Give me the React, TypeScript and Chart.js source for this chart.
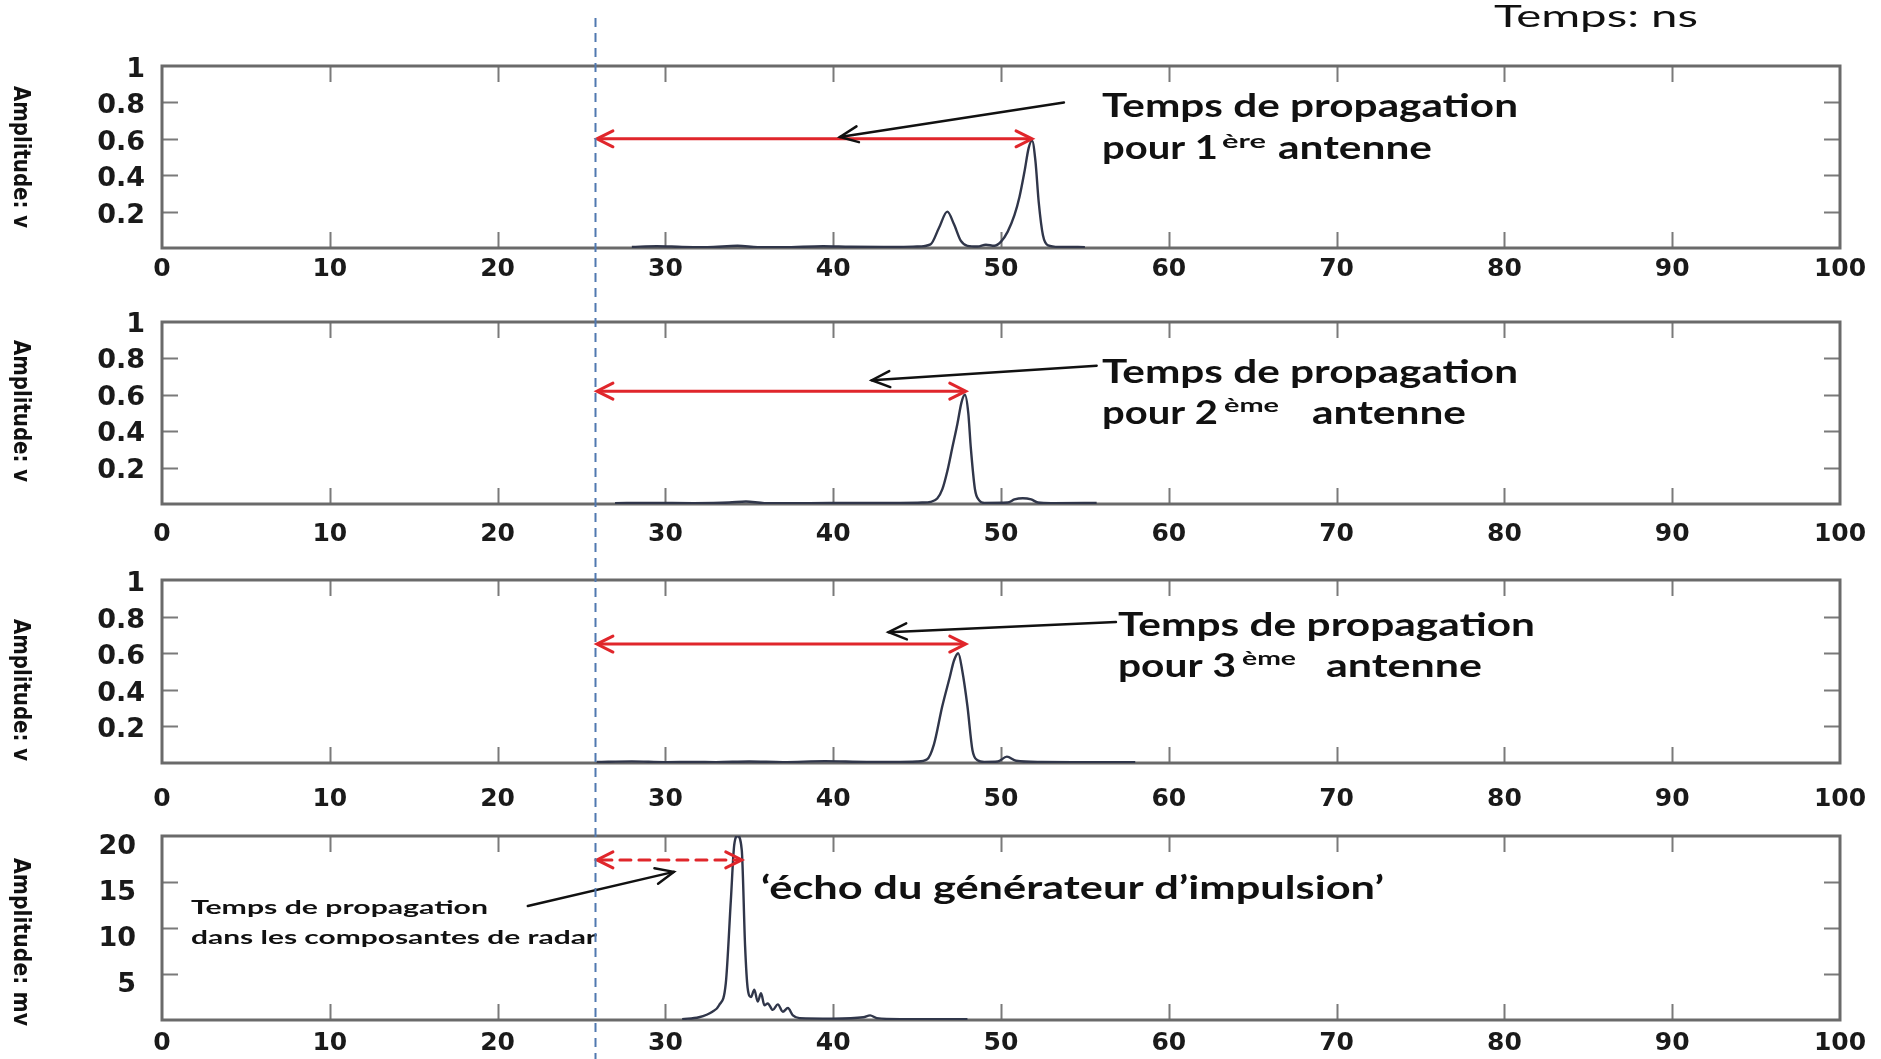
import React, { useEffect, useRef } from "react";
import { Chart, registerables } from "chart.js";

Chart.register(...registerables);

// ---------- data ----------
const X_TICKS = [0, 10, 20, 30, 40, 50, 60, 70, 80, 90, 100];
const Y_TICKS_V = [0, 0.2, 0.4, 0.6, 0.8, 1];
const Y_TICKS_MV = [0, 5, 10, 15, 20];
const Y_TITLES = ["Amplitude: v", "Amplitude: v", "Amplitude: v", "Amplitude: mv"];

// antenne 1 (time ns / amplitude V)
const T1 = [28, 29.5, 31, 32.5, 34.3, 35.5, 37, 39.4, 41, 43, 45, 45.8, 46.3, 46.8, 47.2, 47.6, 48.0, 48.6, 49.1, 49.6, 50.0, 50.4, 50.8, 51.1, 51.4, 51.65, 51.85, 52.05, 52.25, 52.5, 52.8, 53.5, 55];
const A1 = [0.006, 0.01, 0.006, 0.005, 0.012, 0.005, 0.004, 0.01, 0.007, 0.006, 0.008, 0.02, 0.11, 0.2, 0.13, 0.04, 0.012, 0.008, 0.018, 0.012, 0.035, 0.09, 0.18, 0.28, 0.42, 0.55, 0.59, 0.48, 0.25, 0.07, 0.015, 0.006, 0.005];
// antenne 2
const T2 = [27, 29, 31.7, 33.8, 34.8, 35.9, 38.6, 41, 44, 45.3, 45.8, 46.2, 46.5, 46.8, 47.1, 47.4, 47.65, 47.85, 48.05, 48.2, 48.45, 48.7, 49.0, 50.4, 50.8, 51.3, 51.8, 52.2, 53, 55.7];
const A2 = [0.005, 0.006, 0.005, 0.008, 0.014, 0.005, 0.005, 0.006, 0.006, 0.008, 0.012, 0.03, 0.08, 0.18, 0.31, 0.44, 0.56, 0.6, 0.5, 0.31, 0.08, 0.02, 0.006, 0.008, 0.025, 0.032, 0.025, 0.008, 0.005, 0.006];
// antenne 3
const T3 = [25.9, 28, 30, 31.7, 33, 35, 37, 39.5, 42, 44, 45, 45.6, 46.0, 46.5, 46.95, 47.2, 47.45, 47.7, 48.0, 48.3, 48.6, 49.0, 49.8, 50.35, 50.9, 52.4, 55, 58];
const A3 = [0.006, 0.009, 0.005, 0.006, 0.005, 0.008, 0.005, 0.01, 0.006, 0.006, 0.008, 0.02, 0.1, 0.31, 0.47, 0.56, 0.6, 0.5, 0.31, 0.07, 0.015, 0.006, 0.008, 0.035, 0.012, 0.006, 0.005, 0.005];
// écho du générateur (mV)
const T4 = [31, 32, 32.8, 33.2, 33.6, 33.9, 34.1, 34.3, 34.55, 34.75, 34.9, 35.1, 35.3, 35.5, 35.7, 35.9, 36.1, 36.4, 36.7, 37.0, 37.3, 37.6, 38, 40, 41.8, 42.2, 42.6, 44, 48];
const A4 = [0.1, 0.3, 0.9, 1.6, 4, 13, 19, 20, 18.5, 8, 3.5, 2.5, 3.3, 2.0, 2.9, 1.6, 1.8, 1.1, 1.7, 0.9, 1.3, 0.5, 0.2, 0.15, 0.3, 0.5, 0.2, 0.1, 0.1];

const TIMES = [T1, T2, T3, T4];
const AMPS = [A1, A2, A3, A4];

// reference instant (dashed line) and propagation arrows
const REF_TIME = 25.8;
const PROP_END = [51.85, 47.9, 47.9, 34.55];
const PROP_LEVEL = [0.6, 0.62, 0.65, 17.4];
const POINTER_FROM_X = [53.75, 55.7, 56.85, 21.8];
const POINTER_FROM_Y = [0.8, 0.76, 0.77, 12.4];
const POINTER_TO_X = [40.4, 42.3, 43.3, 30.5];
const POINTER_TO_Y = [0.61, 0.68, 0.715, 16.1];

// ---------- layout (page pixels) ----------
const LAYOUT = [
  { top: 0, height: 290, areaTop: 66, areaBottom: 248, xPad: 6, yPad: 17, yLabelOffset: 4, titleY: 157, titleLen: 142, yMax: 1 },
  { top: 290, height: 256, areaTop: 322, areaBottom: 504, xPad: 15, yPad: 17, yLabelOffset: 3, titleY: 411, titleLen: 142, yMax: 1 },
  { top: 546, height: 266, areaTop: 580, areaBottom: 763, xPad: 21, yPad: 17, yLabelOffset: 4, titleY: 690, titleLen: 142, yMax: 1 },
  { top: 812, height: 247, areaTop: 836, areaBottom: 1020, xPad: 8, yPad: 26, yLabelOffset: 11, titleY: 942, titleLen: 168, yMax: 20 },
];
const PLOT_LEFT = 162;
const PLOT_RIGHT = 1840;
const DASH_START = 18;

type TextItem = { t: string; x: number; y: number; font: string; w: number };
const BIG = "700 32px Lato";
const SUP = "700 19px Lato";
const SMALL = "700 19px Lato";
const TEXTS: TextItem[][] = [
  [
    { t: "Temps: ns", x: 1494, y: 27, font: "400 30px Lato", w: 204 },
    { t: "Temps de propagation", x: 1102, y: 117, font: BIG, w: 416 },
    { t: "pour 1", x: 1102, y: 159, font: BIG, w: 116 },
    { t: "ère", x: 1222, y: 148, font: SUP, w: 44 },
    { t: "antenne", x: 1278, y: 159, font: BIG, w: 154 },
  ],
  [
    { t: "Temps de propagation", x: 1102, y: 383, font: BIG, w: 416 },
    { t: "pour 2", x: 1102, y: 424, font: BIG, w: 116 },
    { t: "ème", x: 1224, y: 412, font: SUP, w: 55 },
    { t: "antenne", x: 1312, y: 424, font: BIG, w: 154 },
  ],
  [
    { t: "Temps de propagation", x: 1118, y: 636, font: BIG, w: 417 },
    { t: "pour 3", x: 1118, y: 677, font: BIG, w: 118 },
    { t: "ème", x: 1242, y: 665, font: SUP, w: 54 },
    { t: "antenne", x: 1326, y: 677, font: BIG, w: 156 },
  ],
  [
    { t: "‘écho du générateur d’impulsion’", x: 761, y: 899, font: BIG, w: 623 },
    { t: "Temps de propagation", x: 191, y: 914, font: SMALL, w: 297 },
    { t: "dans les composantes de radar", x: 191, y: 944, font: SMALL, w: 406 },
  ],
];

function stretchText(ctx: CanvasRenderingContext2D, it: TextItem, dy: number) {
  ctx.save();
  ctx.font = it.font;
  ctx.fillStyle = "#111";
  ctx.textAlign = "left";
  ctx.textBaseline = "alphabetic";
  const m = ctx.measureText(it.t).width || 1;
  ctx.translate(it.x, it.y - dy);
  ctx.scale(it.w / m, 1);
  ctx.fillText(it.t, 0, 0);
  ctx.restore();
}

function arrowHead(ctx: CanvasRenderingContext2D, tx: number, ty: number, fx: number, fy: number, len: number, half: number) {
  const a = Math.atan2(ty - fy, tx - fx);
  const c = Math.cos(a), s = Math.sin(a);
  ctx.save();
  ctx.setLineDash([]);
  ctx.beginPath();
  ctx.moveTo(tx - len * c + half * s, ty - len * s - half * c);
  ctx.lineTo(tx, ty);
  ctx.lineTo(tx - len * c - half * s, ty - len * s + half * c);
  ctx.stroke();
  ctx.restore();
}

function makePlugin(i: number) {
  const L = LAYOUT[i];
  const yTicks = i === 3 ? Y_TICKS_MV : Y_TICKS_V;
  return {
    id: "deco" + i,
    beforeDatasetsDraw(chart: any) {
      const { ctx, chartArea: a, scales } = chart;
      const xs = scales.x, ys = scales.y;
      ctx.save();
      // inward tick marks
      ctx.strokeStyle = "#7a7a7a";
      ctx.lineWidth = 2;
      const tl = 16;
      ctx.beginPath();
      X_TICKS.slice(1, -1).forEach((v) => {
        const px = Math.round(xs.getPixelForValue(v)) + 0.5;
        ctx.moveTo(px, a.top);
        ctx.lineTo(px, a.top + tl);
        ctx.moveTo(px, a.bottom);
        ctx.lineTo(px, a.bottom - tl);
      });
      yTicks.slice(1, -1).forEach((v) => {
        const py = Math.round(ys.getPixelForValue(v)) + 0.5;
        ctx.moveTo(a.left, py);
        ctx.lineTo(a.left + tl, py);
        ctx.moveTo(a.right, py);
        ctx.lineTo(a.right - tl, py);
      });
      ctx.stroke();
      // frame
      ctx.strokeStyle = "#6a6a6a";
      ctx.lineWidth = 3;
      ctx.strokeRect(a.left, a.top, a.right - a.left, a.bottom - a.top);
      ctx.restore();
    },
    afterDatasetsDraw(chart: any) {
      const { ctx, scales } = chart;
      const xs = scales.x, ys = scales.y;
      ctx.save();
      // y title, rotated clockwise
      ctx.save();
      ctx.translate(20, L.titleY - L.top);
      ctx.rotate(Math.PI / 2);
      ctx.font = "bold 23px 'DejaVu Sans'";
      const tw = ctx.measureText(Y_TITLES[i]).width || 1;
      ctx.scale(L.titleLen / tw, 1);
      ctx.fillStyle = "#111";
      ctx.textAlign = "center";
      ctx.textBaseline = "middle";
      ctx.fillText(Y_TITLES[i], 0, 0);
      ctx.restore();

      // red propagation arrow
      const x0 = xs.getPixelForValue(REF_TIME) + 2;
      const x1 = xs.getPixelForValue(PROP_END[i]);
      const yr = ys.getPixelForValue(PROP_LEVEL[i]);
      ctx.strokeStyle = "#e0262b";
      ctx.lineWidth = 3;
      ctx.lineCap = "round";
      ctx.beginPath();
      if (i === 3) ctx.setLineDash([11, 8]);
      ctx.moveTo(x0 + 4, yr);
      ctx.lineTo(x1 - 4, yr);
      ctx.stroke();
      ctx.setLineDash([]);
      arrowHead(ctx, x0, yr, x1, yr, 16, 8);
      arrowHead(ctx, x1, yr, x0, yr, 16, 8);

      // black pointer arrow
      const fx = xs.getPixelForValue(POINTER_FROM_X[i]);
      const fy = ys.getPixelForValue(POINTER_FROM_Y[i]);
      const tx = xs.getPixelForValue(POINTER_TO_X[i]);
      const ty = ys.getPixelForValue(POINTER_TO_Y[i]);
      ctx.strokeStyle = "#111";
      ctx.lineWidth = 2.5;
      ctx.beginPath();
      ctx.moveTo(fx, fy);
      ctx.lineTo(tx, ty);
      ctx.stroke();
      arrowHead(ctx, tx, ty, fx, fy, 18, 8);

      // texts
      TEXTS[i].forEach((it) => stretchText(ctx, it, L.top));

      // dashed reference line across the whole figure
      const xr = Math.round(xs.getPixelForValue(REF_TIME)) + 0.5;
      const startGlobal = Math.max(L.top, DASH_START);
      ctx.strokeStyle = "#5079b0";
      ctx.lineWidth = 2;
      ctx.lineCap = "butt";
      ctx.setLineDash([9, 6]);
      ctx.lineDashOffset = startGlobal - DASH_START;
      ctx.beginPath();
      ctx.moveTo(xr, startGlobal - L.top);
      ctx.lineTo(xr, L.height);
      ctx.stroke();
      ctx.restore();
    },
  };
}

const X_FONT = { family: "'DejaVu Sans'", weight: "bold" as const, size: 25 };
const Y_FONT = { family: "'DejaVu Sans'", weight: "bold" as const, size: 27 };

function buildConfig(i: number): any {
  const L = LAYOUT[i];
  const yTicks = i === 3 ? Y_TICKS_MV : Y_TICKS_V;
  return {
    type: "line",
    data: {
      datasets: [
        {
          data: TIMES[i].map((t, k) => ({ x: t, y: AMPS[i][k] })),
          borderColor: "#30364a",
          borderWidth: 2.4,
          pointRadius: 0,
          fill: false,
          cubicInterpolationMode: "monotone",
        },
      ],
    },
    options: {
      animation: false,
      responsive: false,
      maintainAspectRatio: false,
      events: [],
      layout: { padding: { top: L.areaTop - L.top, right: 1881 - PLOT_RIGHT, left: 0, bottom: 0 } },
      plugins: { legend: { display: false }, tooltip: { enabled: false }, title: { display: false } },
      scales: {
        x: {
          type: "linear",
          position: "bottom",
          min: 0,
          max: 100,
          afterBuildTicks: (s: any) => {
            s.ticks = X_TICKS.map((v) => ({ value: v }));
          },
          afterFit: (s: any) => {
            s.height = L.top + L.height - L.areaBottom;
            s.paddingLeft = 0;
            s.paddingRight = 0;
          },
          grid: { display: false, drawTicks: false },
          border: { display: false },
          ticks: {
            padding: L.xPad,
            font: X_FONT,
            color: "#1a1a1a",
            maxRotation: 0,
            autoSkip: false,
            callback: (v: number) => String(v),
          },
        },
        y: {
          type: "linear",
          position: "left",
          min: 0,
          max: L.yMax,
          afterBuildTicks: (s: any) => {
            s.ticks = yTicks.map((v) => ({ value: v }));
          },
          afterFit: (s: any) => {
            s.width = PLOT_LEFT;
            s.paddingTop = 0;
            s.paddingBottom = 0;
          },
          grid: { display: false, drawTicks: false },
          border: { display: false },
          ticks: {
            padding: L.yPad,
            labelOffset: L.yLabelOffset,
            font: Y_FONT,
            color: "#1a1a1a",
            autoSkip: false,
            callback: (v: number) => (v === 0 ? "" : String(Math.round(v * 10) / 10)),
          },
        },
      },
    },
    plugins: [makePlugin(i)],
  };
}

export default function App() {
  const r0 = useRef<HTMLCanvasElement>(null);
  const r1 = useRef<HTMLCanvasElement>(null);
  const r2 = useRef<HTMLCanvasElement>(null);
  const r3 = useRef<HTMLCanvasElement>(null);
  const refs = [r0, r1, r2, r3];

  useEffect(() => {
    const charts = refs.map((r, i) => new Chart(r.current as HTMLCanvasElement, buildConfig(i)));
    return () => charts.forEach((c) => c.destroy());
  }, []);

  return (
    <div style={{ position: "absolute", left: 0, top: 0, width: 1881, height: 1059, background: "#fff", overflow: "hidden" }}>
      {LAYOUT.map((L, i) => (
        <canvas
          key={i}
          ref={refs[i]}
          width={1881}
          height={L.height}
          style={{ position: "absolute", left: 0, top: L.top, width: 1881, height: L.height, display: "block" }}
        />
      ))}
    </div>
  );
}
